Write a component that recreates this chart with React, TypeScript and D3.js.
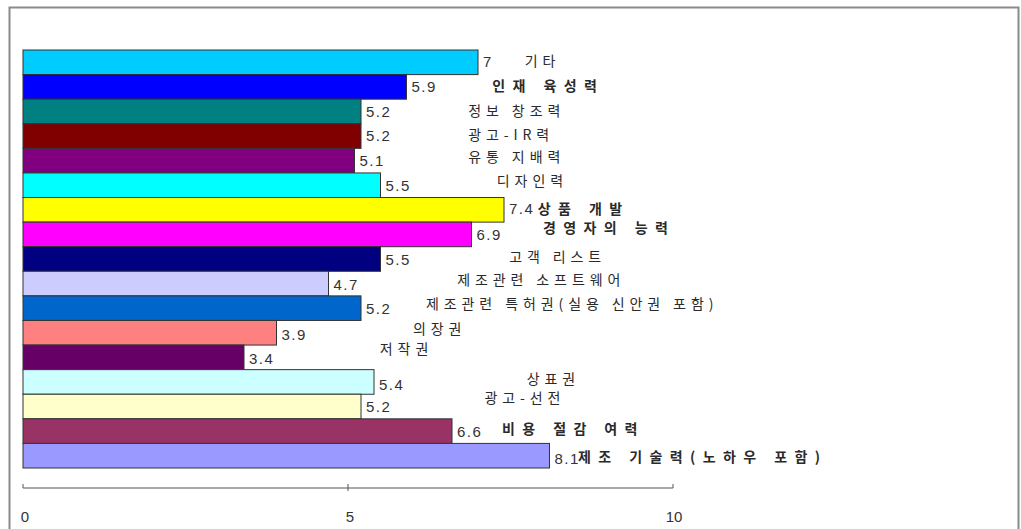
import React from "react";
import * as d3 from "d3";

const categories = [
  "기타",
  "인재 육성력",
  "정보 창조력",
  "광고-IR력",
  "유통 지배력",
  "디자인력",
  "상품 개발",
  "경영자의 능력",
  "고객 리스트",
  "제조관련 소프트웨어",
  "제조관련 특허권(실용 신안권 포함)",
  "의장권",
  "저작권",
  "상표권",
  "광고-선전",
  "비용 절감 여력",
  "제조 기술력(노하우 포함)",
];
const values = [7, 5.9, 5.2, 5.2, 5.1, 5.5, 7.4, 6.9, 5.5, 4.7, 5.2, 3.9, 3.4, 5.4, 5.2, 6.6, 8.1];
const valueLabels = ["7", "5.9", "5.2", "5.2", "5.1", "5.5", "7.4", "6.9", "5.5", "4.7", "5.2", "3.9", "3.4", "5.4", "5.2", "6.6", "8.1"];
const tickValues = [0, 5, 10];

// styling / layout (kept separate from data)
const barColors = [
  "#00CCFF", "#0000FF", "#008080", "#800000", "#800080", "#00FFFF", "#FFFF00", "#FF00FF",
  "#000080", "#CCCCFF", "#0066CC", "#FF8080", "#660066", "#CCFFFF", "#FFFFCC", "#993366", "#9999FF",
];
// where each category label was dragged to (in axis units) and vertical nudge (px)
const labelAnchorX = [7.72, 7.22, 6.85, 6.85, 6.85, 7.29, 7.92, 8.0, 7.48, 6.68, 6.2, 6.0, 5.49, 7.75, 7.1, 7.37, 8.54];
const labelDy = [0, 0, 1, 0, -2, -3, 0, -5, -1, -2, -3, -3, -7, -2, -7, -1, 2];
const labelBold = [false, true, false, false, false, false, true, true, false, false, false, false, false, false, false, true, true];
const valueDy = [1, 1, 1.5, 1, 1, 2, 0, 2, 2, 2, 2, 3, 3, 4, 2, 2, 4];

const W = 1021;
const H = 529;

export default function App() {
  const x = d3.scaleLinear().domain([0, 10]).range([23, 673]);
  const y = d3
    .scaleBand<string>()
    .domain(categories.map((_, i) => String(i)))
    .range([50, 468])
    .padding(0);
  const axisY = 488;
  const bw = y.bandwidth();
  const korFont = "'Noto Sans CJK KR', sans-serif";
  const numFont = "'Liberation Sans', Arial, sans-serif";

  return (
    <svg
      width={W}
      height={H}
      style={{ position: "absolute", left: 0, top: 0, background: "#fff" }}
    >
      <rect x={0} y={0} width={W} height={H} fill="#fff" />
      {/* frame */}
      <path d={`M9.5,${H + 2} V7.5 H1018.5 V${H + 2}`} fill="none" stroke="#8a8a8a" strokeWidth={2} />

      {/* bars */}
      {values.map((v, i) => {
        const yy = y(String(i))!;
        return (
          <rect
            key={"b" + i}
            x={x(0)}
            y={yy}
            width={x(v) - x(0)}
            height={bw}
            fill={barColors[i]}
            stroke="#333"
            strokeWidth={1}
          />
        );
      })}

      {/* value labels */}
      {values.map((v, i) => {
        const yy = y(String(i))! + bw / 2 + valueDy[i];
        return (
          <text
            key={"v" + i}
            x={x(v) + 5}
            y={yy}
            dominantBaseline="middle"
            fontFamily={numFont}
            fontSize={15}
            letterSpacing={1.5}
            fill="#333"
          >
            {valueLabels[i]}
          </text>
        );
      })}

      {/* category labels */}
      {categories.map((c, i) => {
        const yy = y(String(i))! + bw / 2 + labelDy[i];
        return (
          <text
            key={"c" + i}
            x={x(labelAnchorX[i])}
            y={yy}
            dominantBaseline="middle"
            fontFamily={korFont}
            fontSize={14}
            fontWeight={labelBold[i] ? 700 : 400}
            letterSpacing={labelBold[i] ? 7.4 : 4.9}
            fill="#2a2a2a"
          >
            {c}
          </text>
        );
      })}

      {/* axis */}
      <line x1={x(0)} x2={x(10)} y1={axisY} y2={axisY} stroke="#555" strokeWidth={1} />
      {tickValues.map((t) => (
        <g key={"t" + t}>
          <line x1={x(t)} x2={x(t)} y1={axisY - 4} y2={axisY + (t === 5 ? 3 : 0)} stroke="#555" />
          <text
            x={x(t) + (t === 10 ? 1 : 2)}
            y={518}
            textAnchor="middle"
            dominantBaseline="middle"
            fontFamily={numFont}
            fontSize={15}
            fill="#333"
          >
            {t}
          </text>
        </g>
      ))}
    </svg>
  );
}
